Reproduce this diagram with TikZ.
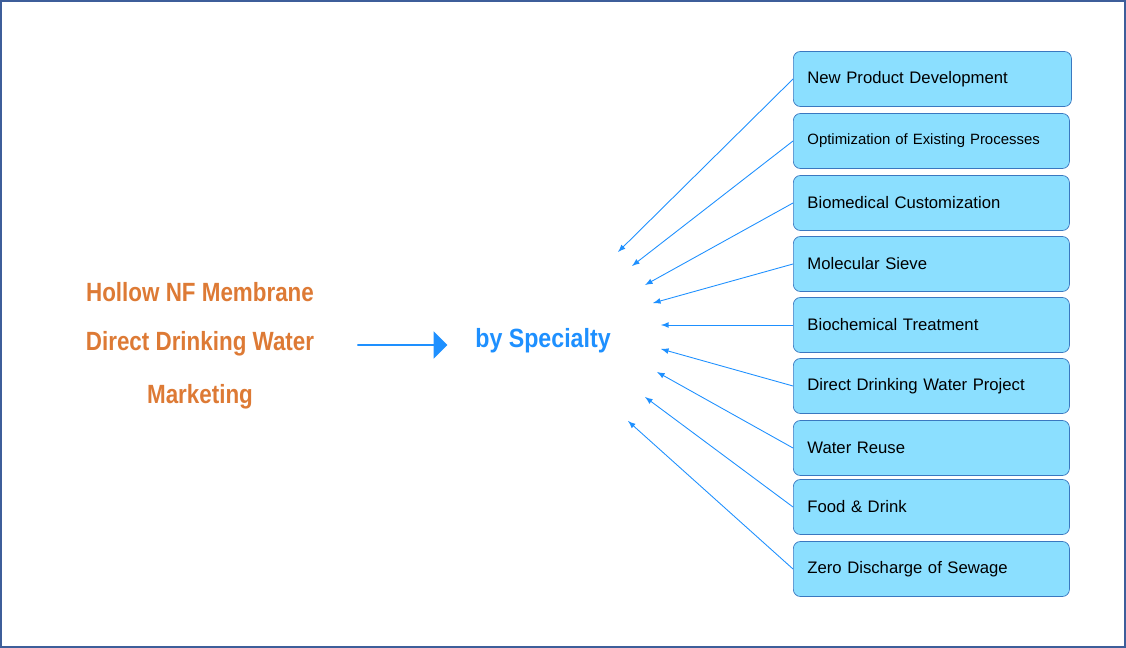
\documentclass[tikz,border=0pt]{standalone}
\usepackage{fontspec}
\setmainfont{Liberation Sans}
\usetikzlibrary{positioning,calc,arrows,shapes.arrows}
\definecolor{boxfill}{HTML}{8BDFFF}
\definecolor{boxline}{HTML}{3A78C0}
\definecolor{arrblue}{HTML}{1E90FF}
\definecolor{titleorange}{HTML}{DD7A35}
\definecolor{frameblue}{HTML}{3D5E9A}

\begin{document}
\begin{tikzpicture}[x=0.02cm, y=-0.02cm]
	\tikzstyle{item}=[draw=boxline, fill=boxfill, rounded corners=4pt, minimum height=1.1cm,
		anchor=west, align=left, inner xsep=8pt, font=\fontsize{9.5}{11}\selectfont]
	\tikzstyle{title}=[text=titleorange, font=\bfseries\fontsize{15}{18}\selectfont]
	\useasboundingbox (0,0) rectangle (1126,648);
	\draw[frameblue, line width=1pt] (1,1) rectangle (1125,647);

	\node[title] (t1) at (200, 292) {\scalebox{0.85}[1]{Hollow NF Membrane}};
	\node[title] (t2) at (200, 344) {\scalebox{0.85}[1]{Direct Drinking Water}};
	\node[title] (t3) at (200, 397) {\scalebox{0.85}[1]{Marketing}};
	\node[single arrow, fill=arrblue, draw=none, minimum height=1.8cm, minimum width=0.55cm,
		single arrow head extend=0.12cm, inner sep=0pt] (big) at (402, 345) {};
	\node[text=arrblue, font=\bfseries\fontsize{15}{18}\selectfont] (spec) at (543, 341)
		{\scalebox{0.88}[1]{by Specialty}};

	\node[item, text width=5.0cm] (npd) at (793, 79) {New Product Development};
	\node[item, text width=4.96cm, font=\fontsize{8.5}{10}\selectfont] (opt) at (793, 141) {Optimization of Existing Processes};
	\node[item, text width=4.96cm] (bio) at (793, 203) {Biomedical Customization};
	\node[item, text width=4.96cm] (mol) at (793, 264) {Molecular Sieve};
	\node[item, text width=4.96cm] (bch) at (793, 325) {Biochemical Treatment};
	\node[item, text width=4.96cm] (ddw) at (793, 386) {Direct Drinking Water Project};
	\node[item, text width=4.96cm] (reuse) at (793, 448) {Water Reuse};
	\node[item, text width=4.96cm] (food) at (793, 507) {Food \& Drink};
	\node[item, text width=4.96cm] (zero) at (793, 569) {Zero Discharge of Sewage};

	\coordinate (e1) at (618, 252);
	\coordinate (e2) at (632, 266);
	\coordinate (e3) at (645, 285);
	\coordinate (e4) at (653, 303);
	\coordinate (e5) at (661, 325);
	\coordinate (e6) at (661, 349);
	\coordinate (e7) at (657, 372);
	\coordinate (e8) at (645, 397);
	\coordinate (e9) at (628, 421);

	\tikzstyle{ptr}=[draw=arrblue, line width=0.5pt, -latex]
	\draw[ptr] (npd.west) -- (e1);
	\draw[ptr] (opt.west) -- (e2);
	\draw[ptr] (bio.west) -- (e3);
	\draw[ptr] (mol.west) -- (e4);
	\draw[ptr] (bch.west) -- (e5);
	\draw[ptr] (ddw.west) -- (e6);
	\draw[ptr] (reuse.west) -- (e7);
	\draw[ptr] (food.west) -- (e8);
	\draw[ptr] (zero.west) -- (e9);
\end{tikzpicture}
\end{document}
